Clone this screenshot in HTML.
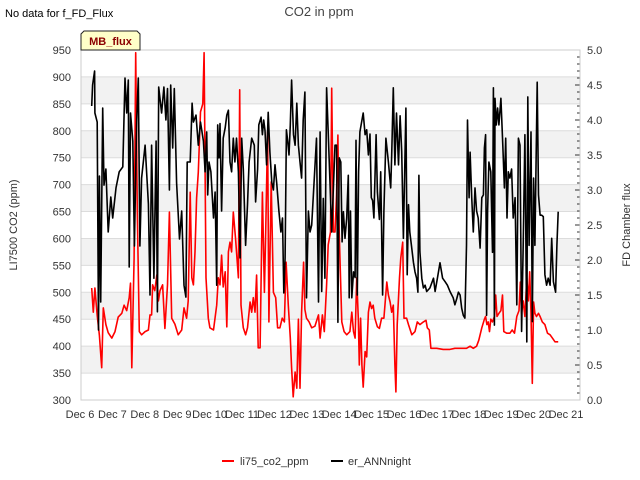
<!DOCTYPE html>
<html><head><meta charset="utf-8"><style>
body{margin:0;background:#fff;}
svg{display:block;font-family:"Liberation Sans","DejaVu Sans",sans-serif;}
</style></head><body>
<svg id="chart" width="640" height="480" viewBox="0 0 640 480">
<text x="5" y="17" font-size="11" fill="#000">No data for f_FD_Flux</text>
<text x="319" y="16" font-size="13" fill="#444" text-anchor="middle">CO2 in ppm</text>
<g id="grid"></g>
<g id="axes"></g>
<g id="series"></g>
<g>
<path d="M84,31 L137,31 L140,34 L140,50 L81,50 L81,34 Z" fill="#ffffc8" stroke="#222" stroke-width="1"/>
<text x="110.5" y="45" font-size="11" font-weight="bold" fill="#8b0000" text-anchor="middle">MB_flux</text>
</g>
<text transform="translate(17,225) rotate(-90)" font-size="11" fill="#333" text-anchor="middle">LI7500 CO2 (ppm)</text>
<text transform="translate(630,225) rotate(-90)" font-size="11" fill="#333" text-anchor="middle">FD Chamber flux</text>
<g>
<g><line x1="222" y1="461" x2="234" y2="461" stroke="#f00" stroke-width="2"/><text x="240" y="465" font-size="11" fill="#333">li75_co2_ppm</text></g>
<g><line x1="331" y1="461" x2="343" y2="461" stroke="#000" stroke-width="2"/><text x="348" y="465" font-size="11" fill="#333">er_ANNnight</text></g>
</g>
</svg>
<script>
const xTickLabels=["Dec 6","Dec 7","Dec 8","Dec 9","Dec 10","Dec 11","Dec 12","Dec 13","Dec 14","Dec 15","Dec 16","Dec 17","Dec 18","Dec 19","Dec 20","Dec 21"];
const leftTicks=[300,350,400,450,500,550,600,650,700,750,800,850,900,950];
const rightTicks=[0,0.5,1,1.5,2,2.5,3,3.5,4,4.5,5];
const redT=[6.36,6.41,6.46,6.53,6.60,6.67,6.72,6.80,6.87,6.98,7.08,7.18,7.29,7.36,7.44,7.52,7.56,7.60,7.67,7.72,7.77,7.83,7.90,8.01,8.11,8.16,8.21,8.24,8.31,8.37,8.42,8.47,8.55,8.62,8.70,8.76,8.83,8.93,9.03,9.14,9.21,9.29,9.34,9.40,9.45,9.50,9.55,9.60,9.65,9.72,9.79,9.83,
9.89,9.96,10.01,10.12,10.22,10.27,10.32,10.37,10.42,10.48,10.53,10.58,10.63,10.68,10.73,10.80,10.89,10.93,10.97,11.04,11.11,11.17,11.25,11.30,11.35,11.40,11.45,11.50,11.56,11.63,11.69,11.73,11.79,11.83,11.90,11.97,12.04,12.10,12.17,12.24,12.31,12.36,12.43,12.49,12.53,12.58,12.64,12.69,12.74,12.79,12.84,12.90,12.94,12.99,13.07,13.15,13.25,13.36,13.41,13.48,13.54,13.61,13.66,13.73,13.77,
13.82,13.87,13.92,13.96,14.00,14.08,14.15,14.23,14.33,14.39,14.44,14.49,14.54,14.59,14.62,14.66,14.70,14.74,14.80,14.85,14.90,14.95,15.00,15.05,15.10,15.18,15.24,15.31,15.38,15.42,15.47,15.52,15.57,15.62,15.67,15.72,15.75,15.79,15.86,15.90,15.96,16.00,16.08,16.14,16.24,16.34,16.41,16.49,16.60,16.68,16.72,16.78,16.83,17.01,17.21,17.42,
17.57,17.93,18.04,18.14,18.24,18.31,18.40,18.48,18.52,18.56,18.60,18.64,18.68,18.73,18.79,18.83,18.87,18.93,18.99,19.04,19.08,19.17,19.27,19.34,19.41,19.48,19.55,19.59,19.63,19.68,19.73,19.79,19.84,19.88,19.92,19.96,20.00,20.04,20.09,20.15,20.20,20.27,20.35,20.43,20.51,20.58,20.66,20.76];
const redV=[508,463,508,457,420,360,471,440,425,415,427,454,461,476,466,490,517,360,563,945,649,427,421,427,430,458,458,514,503,532,484,503,514,433,514,649,452,441,421,430,471,452,484,686,527,514,575,675,723,835,850,945,
527,452,434,430,476,527,514,569,510,538,436,575,593,575,649,601,527,876,476,434,421,434,482,463,490,463,532,397,397,686,500,612,798,445,705,500,490,434,434,452,445,556,476,415,360,306,352,322,450,322,463,556,468,452,445,434,437,458,415,458,427,514,588,612,879,
612,612,681,792,612,445,427,421,427,463,427,415,527,452,365,452,365,324,390,380,463,482,470,476,452,436,433,452,452,482,519,495,482,463,476,365,315,440,527,564,593,452,452,440,421,427,445,440,445,448,434,430,396,396,394,394,
396,396,400,396,400,411,434,450,455,440,445,427,450,445,455,495,455,461,466,495,427,424,424,430,424,455,466,519,461,484,455,527,484,538,461,331,482,461,455,461,455,445,440,424,421,415,408,408];
const blackT=[6.36,6.39,6.45,6.46,6.53,6.57,6.60,6.64,6.70,6.74,6.80,6.87,6.95,7.01,7.11,7.21,7.32,7.39,7.44,7.49,7.52,7.56,7.63,7.68,7.75,7.80,7.85,7.90,8.01,8.11,8.16,8.21,8.28,8.35,8.39,8.43,8.52,8.59,8.65,8.70,8.76,8.80,8.86,8.91,8.98,9.07,9.14,9.21,9.27,9.31,9.40,9.46,9.50,9.58,9.65,9.72,9.81,
9.86,9.91,9.94,9.98,10.04,10.12,10.17,10.22,10.25,10.29,10.32,10.37,10.42,10.48,10.53,10.58,10.63,10.68,10.73,10.78,10.83,10.89,10.94,10.99,11.04,11.11,11.17,11.22,11.30,11.38,11.42,11.48,11.52,11.59,11.63,11.67,11.71,11.76,11.81,11.86,11.92,11.97,12.02,12.07,12.14,12.20,12.25,12.29,12.33,12.37,12.41,12.45,12.49,12.53,12.59,12.64,12.69,12.74,12.79,12.84,12.89,12.94,12.99,13.05,13.10,13.15,13.23,13.30,13.36,13.41,13.46,13.51,13.56,13.61,13.66,13.77,
13.84,13.87,13.92,13.96,14.00,14.05,14.09,14.13,14.18,14.23,14.28,14.31,14.35,14.39,14.44,14.49,14.52,14.56,14.60,14.64,14.69,14.74,14.80,14.85,14.90,14.95,14.99,15.03,15.07,15.14,15.18,15.24,15.28,15.34,15.38,15.44,15.52,15.59,15.62,15.67,15.72,15.77,15.83,15.88,15.93,15.98,16.06,16.10,16.14,16.18,16.23,16.29,16.34,16.39,16.43,16.46,16.49,16.55,16.60,16.65,16.70,16.80,16.91,16.96,17.03,17.11,17.19,17.27,17.34,17.42,17.52,
17.57,17.63,17.68,17.73,17.78,17.83,17.88,17.93,17.96,18.01,18.04,18.09,18.14,18.19,18.24,18.29,18.35,18.40,18.45,18.48,18.52,18.55,18.58,18.62,18.68,18.73,18.76,18.79,18.81,18.85,18.89,18.93,18.99,19.05,19.10,19.14,19.18,19.22,19.27,19.32,19.37,19.43,19.48,19.53,19.58,19.63,19.68,19.73,19.79,19.82,19.86,19.92,19.96,20.00,20.04,20.11,20.15,20.20,20.25,20.30,20.35,20.40,20.45,20.51,20.56,20.61,20.68,20.72,20.76];
const blackV=[4.2,4.5,4.7,4.1,3.97,1.0,3.2,1.4,4.17,3.07,3.3,2.4,2.9,2.6,3.03,3.26,3.33,4.6,4.1,4.57,1.9,4.1,3.7,2.2,4.0,4.6,2.2,3.17,3.64,2.8,1.5,3.64,1.74,3.7,1.26,4.47,4.1,4.47,4.0,4.45,3.0,4.5,3.6,4.45,3.1,2.3,2.7,1.64,1.47,3.4,3.4,4.24,3.97,4.07,3.64,3.97,3.7,
3.26,3.83,2.93,3.4,3.26,2.6,2.97,1.64,3.93,3.46,3.95,2.7,3.74,3.89,4.07,4.14,3.4,3.26,3.74,3.4,3.74,3.26,2.03,3.74,3.3,2.21,2.79,3.4,3.74,3.64,2.83,3.3,3.93,4.04,3.79,4.0,3.85,3.36,4.11,3.54,3.11,3.0,3.36,3.1,2.7,2.4,2.6,1.53,2.03,3.86,3.7,3.5,3.93,4.57,3.79,3.64,4.24,3.64,3.4,3.17,4.0,4.4,1.46,2.7,2.4,2.5,3.17,3.74,1.4,3.83,1.55,2.88,1.74,4.46,3.83,2.4,
3.26,3.64,3.64,1.11,3.46,3.4,2.26,2.69,2.31,2.6,3.21,1.46,2.7,1.46,1.83,1.75,3.71,1.5,3.26,3.83,3.97,4.1,3.79,3.86,3.5,3.8,2.89,2.85,2.6,3.79,2.97,2.58,3.26,1.5,2.7,3.74,3.4,3.03,3.5,4.46,3.36,4.1,3.36,4.06,3.55,2.31,4.17,1.79,2.79,2.4,2.2,1.97,1.83,1.74,1.54,3.21,2.12,1.74,1.6,1.64,1.55,1.6,1.74,1.55,1.74,1.96,1.74,1.69,1.64,1.55,1.46,
1.36,1.45,1.54,1.5,1.31,1.21,1.17,2.21,4.0,2.89,3.54,2.9,2.4,3.03,2.7,2.6,2.17,2.89,2.93,3.6,3.79,1.21,2.7,3.4,3.26,2.11,4.46,1.07,4.31,3.93,4.17,3.93,4.31,3.64,3.03,3.74,2.6,3.26,3.17,3.3,2.6,2.89,1.36,3.74,3.64,0.98,2.21,3.79,0.83,4.33,2.21,3.83,1.12,3.17,2.21,4.54,2.93,2.64,2.64,2.62,1.79,1.64,1.74,1.64,2.31,1.69,1.54,2.21,2.69];

const NS="http://www.w3.org/2000/svg";
const PL=81,PR=580,PT=50,PB=400;
function xS(d){return 80+(d-6)*32.4;}
function yL(v){return PB-(v-300)*(PB-PT)/650;}
function yR(v){return PB-v*(PB-PT)/5;}
function mk(tag,attrs,parent){const e=document.createElementNS(NS,tag);for(const k in attrs)e.setAttribute(k,attrs[k]);parent.appendChild(e);return e;}
const grid=document.getElementById('grid'),axes=document.getElementById('axes'),series=document.getElementById('series');
for(let i=0;i<leftTicks.length-1;i++){
  const v=leftTicks[i];
  if(i%2===1){
    const r=mk('rect',{x:PL,y:yL(v+50),width:PR-PL,height:yL(v)-yL(v+50),fill:'#f2f2f2'},grid);
    
    
  }
}
leftTicks.forEach(v=>{
  const l=mk('line',{x1:PL,x2:PR,y1:yL(v),y2:yL(v),stroke:'#dcdcdc','stroke-width':1},grid);
  
  
  const t=mk('text',{x:71,y:yL(v)+4,'font-size':11,fill:'#333','text-anchor':'end'},axes);
  t.textContent=v;
  
  
});
rightTicks.forEach(v=>{
  const t=mk('text',{x:587,y:yR(v)+4,'font-size':11,fill:'#333'},axes);
  t.textContent=v.toFixed(1);
  
  
});
for(let k=0;k<=50;k++){
  const y=yR(k/10);
  const tk=mk('line',{x1:k%5===0?575:577,x2:580,y1:y,y2:y,stroke:'#333','stroke-width':1},axes);
  
  
}
xTickLabels.forEach((s,i)=>{
  const t=mk('text',{x:xS(6+i),y:418,'font-size':11,fill:'#333','text-anchor':'middle'},axes);
  t.textContent=s;
  
  
});
const fr=mk('rect',{x:PL,y:PT,width:PR-PL,height:PB-PT,fill:'none',stroke:'#ccc','stroke-width':1},axes);


let d1=redT.map((t,i)=>(i?'L':'M')+xS(t).toFixed(1)+','+yL(redV[i]).toFixed(1)).join('');
const rl=mk('path',{d:d1,fill:'none',stroke:'#f00','stroke-width':1.6,'stroke-linejoin':'round'},series);


let d2=blackT.map((t,i)=>(i?'L':'M')+xS(t).toFixed(1)+','+yR(blackV[i]).toFixed(1)).join('');
const bl=mk('path',{d:d2,fill:'none',stroke:'#000','stroke-width':1.6,'stroke-linejoin':'round'},series);


</script>
</body></html>
